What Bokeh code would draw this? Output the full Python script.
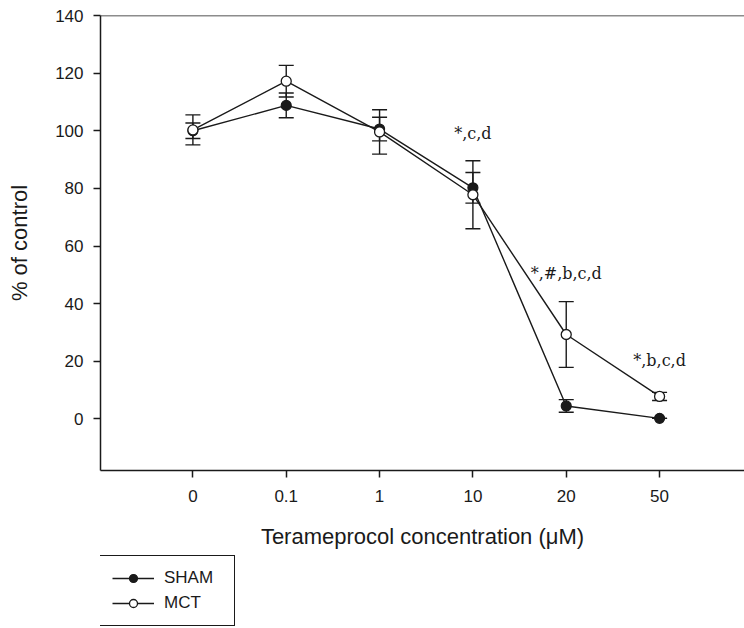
from bokeh.plotting import figure
from bokeh.layouts import column
from bokeh.models import (ColumnDataSource, Whisker, TeeHead, FixedTicker, Span,
                          Legend, LegendItem)
from bokeh.core.properties import value
from bokeh.embed import file_html
from bokeh.resources import INLINE

# ---- data ----
concentrations = ["0", "0.1", "1", "10", "20", "50"]
positions = [0, 1, 2, 3, 4, 5]
sham_mean = [100.0, 108.8, 100.6, 80.2, 4.5, 0.2]
sham_err = [2.7, 4.3, 4.1, 5.3, 2.2, 0.0]
mct_mean = [100.3, 117.2, 99.6, 77.8, 29.3, 7.8]
mct_err = [5.2, 5.5, 7.7, 11.8, 11.4, 1.4]
annot_text = ["*,c,d", "*,#,b,c,d", "*,b,c,d"]
annot_x = [3, 4, 5]
annot_y = [99.0, 50.5, 20.3]
y_ticks = [0, 20, 40, 60, 80, 100, 120, 140]
series_names = ["SHAM", "MCT"]

sham = ColumnDataSource(dict(x=positions, y=sham_mean,
                             lo=[m - e for m, e in zip(sham_mean, sham_err)],
                             hi=[m + e for m, e in zip(sham_mean, sham_err)]))
mct = ColumnDataSource(dict(x=positions, y=mct_mean,
                            lo=[m - e for m, e in zip(mct_mean, mct_err)],
                            hi=[m + e for m, e in zip(mct_mean, mct_err)]))
ann = ColumnDataSource(dict(x=annot_x, y=annot_y, t=annot_text))

INK = "#1a1a1a"
p = figure(width=744, height=554, x_range=(-0.99, 5.91), y_range=(-17.9, 140),
           output_backend="svg", toolbar_location=None,
           min_border_left=100, min_border_right=0, min_border_top=15,
           min_border_bottom=84)
p.outline_line_color = None
p.xgrid.visible = False
p.ygrid.visible = False
p.background_fill_color = "white"
p.border_fill_color = "white"

p.add_layout(Span(location=140, dimension="width", line_color=INK, line_width=1.5))

for ax in (p.xaxis[0], p.yaxis[0]):
    ax.axis_line_color = INK
    ax.axis_line_width = 1.5
    ax.major_tick_line_color = INK
    ax.major_tick_line_width = 1.5
    ax.major_tick_out = 7
    ax.major_tick_in = 0
    ax.minor_tick_line_color = None
    ax.major_label_text_font = "Liberation Sans"
    ax.major_label_text_font_size = "17px"
    ax.major_label_text_color = INK
    ax.axis_label_text_font = "Liberation Sans"
    ax.axis_label_text_font_style = "normal"
    ax.axis_label_text_color = INK

p.xaxis.ticker = FixedTicker(ticks=positions)
p.xaxis.major_label_overrides = {pos: lab for pos, lab in zip(positions, concentrations)}
p.xaxis.major_label_standoff = 12
p.xaxis.axis_label = "Terameprocol concentration (μM)"
p.xaxis.axis_label_text_font_size = "22px"
p.xaxis.axis_label_standoff = 19

p.yaxis.ticker = FixedTicker(ticks=y_ticks)
p.yaxis.major_label_standoff = 10
p.yaxis.axis_label = "% of control"
p.yaxis.axis_label_text_font_size = "22px"
p.yaxis.axis_label_standoff = 20

for src in (sham, mct):
    p.add_layout(Whisker(source=src, base="x", lower="lo", upper="hi",
                         line_color=INK, line_width=1.4,
                         upper_head=TeeHead(size=15, line_color=INK, line_width=1.4),
                         lower_head=TeeHead(size=15, line_color=INK, line_width=1.4)))

p.line("x", "y", source=sham, line_color=INK, line_width=1.4)
p.line("x", "y", source=mct, line_color=INK, line_width=1.4)
p.scatter("x", "y", source=sham, size=10, fill_color=INK, line_color=INK, line_width=1.2)
p.scatter("x", "y", source=mct, size=10, fill_color="white", line_color=INK, line_width=1.3)

p.text("x", "y", text="t", source=ann, text_font=value("DejaVu Serif"),
       text_font_size="16px", text_color=INK, text_align="center",
       text_baseline="middle")

# legend strip below the chart; its key renderers reuse the series data but
# the strip's ranges keep them out of view, so only the legend is shown
q = figure(width=744, height=74, x_range=(1000, 1001), y_range=(1000, 1001),
           output_backend="svg", toolbar_location=None,
           x_axis_location=None, y_axis_location=None,
           min_border_left=0, min_border_right=0, min_border_top=0,
           min_border_bottom=0)
q.grid.visible = False
q.outline_line_color = None
q.background_fill_color = "white"
q.border_fill_color = "white"
ql1 = q.line("x", "y", source=sham, line_color=INK, line_width=1.4)
qs1 = q.scatter("x", "y", source=sham, size=10, fill_color=INK, line_color=INK, line_width=1.2)
ql2 = q.line("x", "y", source=mct, line_color=INK, line_width=1.4)
qs2 = q.scatter("x", "y", source=mct, size=10, fill_color="white", line_color=INK, line_width=1.3)

legend = Legend(items=[LegendItem(label=series_names[0], renderers=[ql1, qs1]),
                       LegendItem(label=series_names[1], renderers=[ql2, qs2])],
                location=(-1, 2), orientation="vertical",
                border_line_color=INK, border_line_width=1.3, border_line_alpha=1,
                background_fill_color="white", background_fill_alpha=1,
                label_text_font="Liberation Sans", label_text_font_size="17px",
                label_text_color=INK, glyph_width=42, glyph_height=20,
                label_height=20, label_width=58, label_standoff=10, spacing=5,
                padding=12, margin=0)
q.add_layout(legend, "center")

layout = column(p, q, spacing=0)
open("out.html", "w").write(file_html(layout, INLINE))
